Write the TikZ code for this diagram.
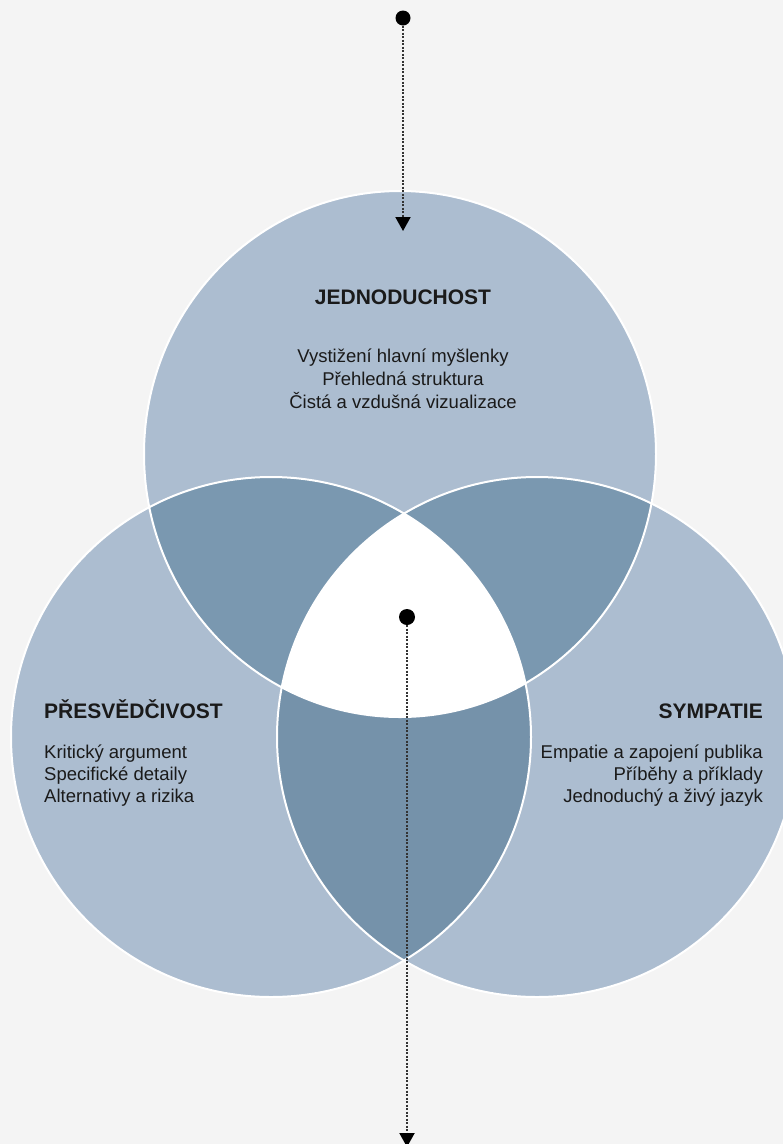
\documentclass[tikz,border=0pt]{standalone}
\usepackage{fontspec}
\setmainfont{Liberation Sans}
\usetikzlibrary{arrows.meta}
\definecolor{bg}{HTML}{F4F4F4}
\definecolor{lightc}{HTML}{ACBDD0}
\definecolor{midc}{HTML}{7A98B0}
\definecolor{midb}{HTML}{7592AA}
\definecolor{ink}{HTML}{1A1A1A}
\definecolor{linec}{HTML}{333333}
\tikzset{
  ttl/.style={text=ink, inner sep=0pt, font=\fontsize{21}{25}\selectfont\bfseries},
  bodytxt/.style={text=ink, inner sep=0pt, font=\fontsize{18.5}{23}\selectfont},
  dotnode/.style={circle, fill=black, inner sep=0pt, minimum size=#1},
  conn/.style={draw=linec, line width=2pt, dash pattern=on 2pt off 1.5pt,
    -{Triangle[length=14pt,width=15pt,color=black,fill=black]}},
  outline/.style={draw=white, line width=2pt}
}
\begin{document}
\begin{tikzpicture}[x=1pt,y=-1pt]
\fill[bg] (0,0) rectangle (783,1144);
\useasboundingbox (0,0) rectangle (783,1144);
\clip (0,0) rectangle (783,1144);
% circles
\fill[lightc] (400,454) ellipse [x radius=256pt, y radius=263pt];
\fill[lightc] (271,737) circle [radius=260pt];
\fill[lightc] (537,737) circle [radius=260pt];
% pairwise overlaps
\begin{scope}
  \clip (400,454) ellipse [x radius=256pt, y radius=263pt];
  \fill[midc] (271,737) circle [radius=260pt];
  \fill[midc] (537,737) circle [radius=260pt];
\end{scope}
\begin{scope}
  \clip (271,737) circle [radius=260pt];
  \fill[midb] (537,737) circle [radius=260pt];
\end{scope}
% triple overlap
\begin{scope}
  \clip (400,454) ellipse [x radius=256pt, y radius=263pt];
  \clip (271,737) circle [radius=260pt];
  \fill[white] (537,737) circle [radius=260pt];
\end{scope}
% outlines
\draw[outline] (400,454) ellipse [x radius=256pt, y radius=263pt];
\draw[outline] (271,737) circle [radius=260pt];
\draw[outline] (537,737) circle [radius=260pt];
% texts: top
\node[ttl, anchor=base] (t1) at (403,304) {JEDNODUCHOST};
\node[bodytxt, anchor=base] (t1a) at (403,362) {Vystižení hlavní myšlenky};
\node[bodytxt, anchor=base] (t1b) at (403,385) {Přehledná struktura};
\node[bodytxt, anchor=base] (t1c) at (403,408) {Čistá a vzdušná vizualizace};
% left
\node[ttl, anchor=base west] (t2) at (44,718) {PŘESVĚDČIVOST};
\node[bodytxt, anchor=base west] (t2a) at (44,758) {Kritický argument};
\node[bodytxt, anchor=base west] (t2b) at (44,780) {Specifické detaily};
\node[bodytxt, anchor=base west] (t2c) at (44,802) {Alternativy a rizika};
% right
\node[ttl, anchor=base east] (t3) at (763,718) {SYMPATIE};
\node[bodytxt, anchor=base east] (t3a) at (763,758) {Empatie a zapojení publika};
\node[bodytxt, anchor=base east] (t3b) at (763,780) {Příběhy a příklady};
\node[bodytxt, anchor=base east] (t3c) at (763,802) {Jednoduchý a živý jazyk};
% connectors
\node[dotnode=15pt] (d1) at (403,18) {};
\coordinate (a1) at (403,231);
\draw[conn] (d1) -- (a1);
\node[dotnode=16pt] (d2) at (407,617) {};
\coordinate (a2) at (407,1147);
\draw[conn] (d2) -- (a2);
\end{tikzpicture}
\end{document}
